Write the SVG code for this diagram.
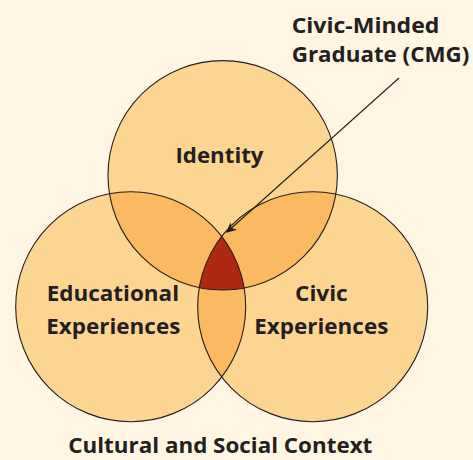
<svg xmlns="http://www.w3.org/2000/svg" width="473" height="460" viewBox="0 0 473 460">
<style>
.base{fill:#FDD593;}
.pair{fill:#FBB962;}
.tri{fill:#AE2913;}
.edge{fill:none;stroke:#231F20;stroke-width:1.1;}
.lbl{font-family:"Open Sans","Noto Sans",sans-serif;font-weight:bold;font-size:22px;fill:#231F20;}
.conn{stroke:#231F20;stroke-width:1.1;fill:none;}
</style>
<defs>
<circle id="cI" cx="222.7" cy="175.3" r="114.7"/>
<circle id="cE" cx="130.7" cy="306.7" r="115"/>
<circle id="cC" cx="312.7" cy="306.7" r="115"/>
<clipPath id="clipI"><use href="#cI"/></clipPath>
<clipPath id="clipE"><use href="#cE"/></clipPath>
<clipPath id="clipC"><use href="#cC"/></clipPath>
<clipPath id="clipIE" clip-path="url(#clipI)"><use href="#cE"/></clipPath>
<marker id="arr" viewBox="0 0 10 10" refX="9" refY="5" markerWidth="10" markerHeight="10" markerUnits="userSpaceOnUse" orient="auto">
<path d="M0,0 L10,5 L0,10 L3,5 Z" fill="#231F20"/>
</marker>
</defs>
<rect width="473" height="460" fill="#FEF6E3"/>
<g id="node-identity">
<use href="#cI" class="base"/>
</g>
<g id="node-educational">
<use href="#cE" class="base"/>
</g>
<g id="node-civic">
<use href="#cC" class="base"/>
</g>
<g id="overlaps">
<g clip-path="url(#clipI)"><use href="#cE" class="pair"/><use href="#cC" class="pair"/></g>
<g clip-path="url(#clipE)"><use href="#cC" class="pair"/></g>
<g clip-path="url(#clipIE)"><use href="#cC" class="tri"/></g>
</g>
<g id="outlines">
<use href="#cI" class="edge"/>
<use href="#cE" class="edge"/>
<use href="#cC" class="edge"/>
</g>
<g id="labels">
<text class="lbl" x="219.5" y="163" text-anchor="middle" textLength="88" lengthAdjust="spacingAndGlyphs">Identity</text>
<text class="lbl" x="46.7" y="301" textLength="132.3" lengthAdjust="spacingAndGlyphs">Educational</text>
<text class="lbl" x="46.3" y="334" textLength="134" lengthAdjust="spacingAndGlyphs">Experiences</text>
<text class="lbl" x="295" y="301" textLength="52.7" lengthAdjust="spacingAndGlyphs">Civic</text>
<text class="lbl" x="254.3" y="334" textLength="134" lengthAdjust="spacingAndGlyphs">Experiences</text>
<text class="lbl" x="291.7" y="33.3" textLength="147.6" lengthAdjust="spacingAndGlyphs">Civic-Minded</text>
<text class="lbl" x="291.7" y="62.3" textLength="177.6" lengthAdjust="spacingAndGlyphs">Graduate (CMG)</text>
<text class="lbl" x="68.3" y="453" textLength="304" lengthAdjust="spacingAndGlyphs">Cultural and Social Context</text>
</g>
<g id="connectors">
<line class="conn" x1="399" y1="78" x2="227" y2="232" marker-end="url(#arr)"/>
</g>
</svg>
